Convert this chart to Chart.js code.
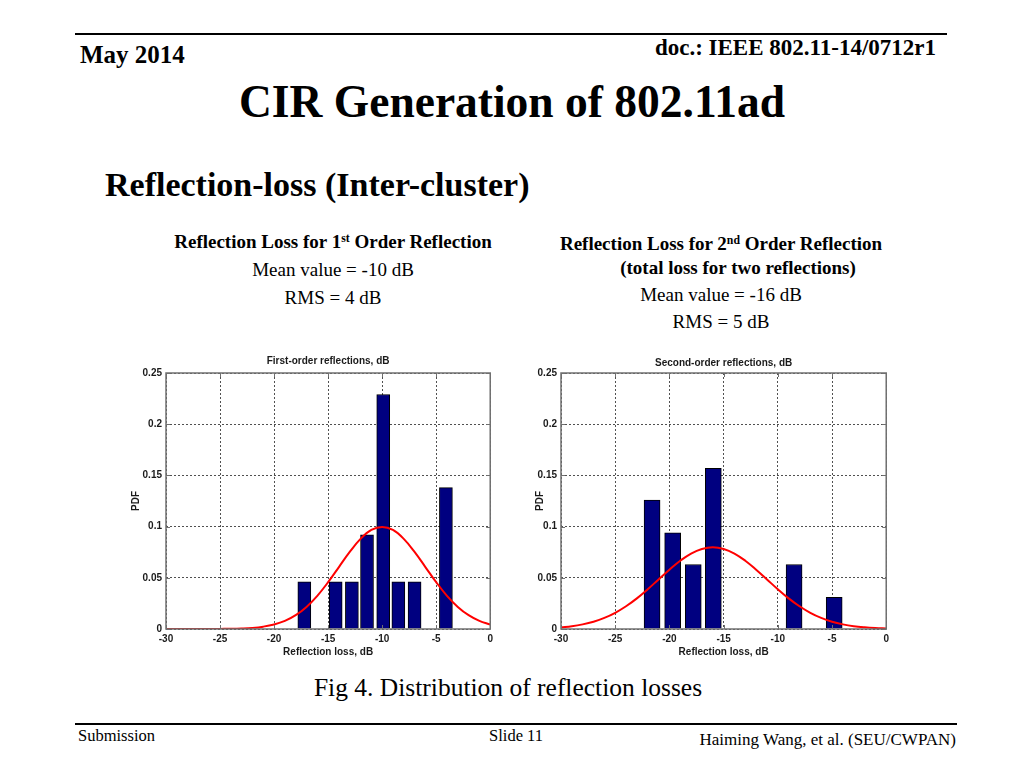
<!DOCTYPE html>
<html>
<head>
<meta charset="utf-8">
<title>CIR Generation of 802.11ad</title>
<script src="https://cdn.jsdelivr.net/npm/chart.js@4.4.0/dist/chart.umd.min.js"></script>
<style>
    body {
        margin: 0;
        width: 1024px;
        height: 768px;
        background: #fff;
        position: relative;
        overflow: hidden;
        font-family: "Liberation Serif", "Times New Roman", serif;
        color: #000;
    }
    .t { position: absolute; white-space: nowrap; line-height: 1; }
    .c { transform: translateX(-50%); }
    .b { font-weight: bold; }
    .rule { position: absolute; left: 75px; height: 2px; background: #000; }
    sup { font-size: 0.62em; line-height: 0; vertical-align: 0.55em; }
    canvas { position: absolute; }
</style>
</head>
<body>

<div class="rule" style="top:33px; width:872px;"></div>
<div class="t b" style="left:80px; top:42px; font-size:25px;">May 2014</div>
<div class="t b" style="right:88px; top:36px; font-size:23px;">doc.: IEEE 802.11-14/0712r1</div>
<div class="t b c" style="left:512px; top:79px; font-size:45.5px;">CIR Generation of 802.11ad</div>
<div class="t b" style="left:105px; top:168px; font-size:34px;">Reflection-loss (Inter-cluster)</div>

<div class="t b c" style="left:333px; top:232px; font-size:19px;">Reflection Loss for 1<sup>st</sup> Order Reflection</div>
<div class="t c" style="left:333px; top:260px; font-size:19px;">Mean value = -10 dB</div>
<div class="t c" style="left:333px; top:288px; font-size:19px;">RMS = 4 dB</div>

<div class="t b c" style="left:721px; top:234px; font-size:19px;">Reflection Loss for 2<sup>nd</sup> Order Reflection</div>
<div class="t b c" style="left:738px; top:258px; font-size:19px;">(total loss for two reflections)</div>
<div class="t c" style="left:721px; top:285px; font-size:19px;">Mean value = -16 dB</div>
<div class="t c" style="left:721px; top:312px; font-size:19px;">RMS = 5 dB</div>

<canvas id="firstChart" width="372" height="310" style="left:125px; top:352px;"></canvas>
<canvas id="secondChart" width="373" height="310" style="left:520px; top:352px;"></canvas>

<div class="t c" style="left:508px; top:675px; font-size:25.5px;">Fig 4. Distribution of reflection losses</div>

<div class="rule" style="top:723px; width:882px;"></div>
<div class="t" style="left:78px; top:728px; font-size:16.5px;">Submission</div>
<div class="t c" style="left:516px; top:728px; font-size:16.5px;">Slide 11</div>
<div class="t" style="right:68px; top:731px; font-size:17px;">Haiming Wang, et al. (SEU/CWPAN)</div>

<script>
// гистограмма 1-го порядка (центры бинов, dB) и PDF
var firstBinCenters = [-17.2, -14.3, -12.8, -11.4, -9.9, -8.5, -7.0, -4.1];
var firstPdf = [0.046, 0.046, 0.046, 0.092, 0.229, 0.046, 0.046, 0.138];

// гистограмма 2-го порядка
var secondBinCenters = [-21.6, -19.7, -17.8, -15.95, -8.5, -4.8];
var secondPdf = [0.126, 0.094, 0.063, 0.157, 0.063, 0.031];

// красные кривые (шаг 1 dB)
var fitLoss = [-30, -29, -28, -27, -26, -25, -24, -23, -22, -21, -20, -19, -18, -17, -16, -15,
               -14, -13, -12, -11, -10, -9, -8, -7, -6, -5, -4, -3, -2, -1, 0];
var firstFit = [0, 0, 0, 0, 0, 0.0001, 0.0002, 0.0005, 0.0011, 0.0023, 0.0044, 0.0079, 0.0135, 0.0216, 0.0324, 0.0457,
                0.0605, 0.0753, 0.0880, 0.0967, 0.0997, 0.0967, 0.0880, 0.0753, 0.0605, 0.0457, 0.0324, 0.0216, 0.0135, 0.0079, 0.0044];
var secondFit = [0.0016, 0.0027, 0.0045, 0.0071, 0.0108, 0.0158, 0.0222, 0.0299, 0.0388, 0.0484, 0.0579, 0.0667, 0.0737, 0.0782, 0.0798, 0.0782,
                 0.0737, 0.0667, 0.0579, 0.0484, 0.0388, 0.0299, 0.0222, 0.0158, 0.0108, 0.0071, 0.0045, 0.0027, 0.0016, 0.0009, 0.0005];

var xTickLabels = ['-30', '-25', '-20', '-15', '-10', '-5', '0'];
var yTickLabels = ['0', '0.05', '0.1', '0.15', '0.2', '0.25'];

Chart.defaults.font.family = '"Liberation Sans", Arial, sans-serif';
Chart.defaults.font.weight = 'bold';
Chart.defaults.color = '#1a1a1a';

// рамка вокруг области графика и короткие засечки внутрь, как в MATLAB
var frameBox = {
    id: 'frameBox',
    afterDraw: function(chart) {
        var a = chart.chartArea;
        var ctx = chart.ctx;
        var xs = chart.scales.x, ys = chart.scales.y;
        ctx.save();
        ctx.strokeStyle = '#707070';
        ctx.lineWidth = 1.5;
        ctx.strokeRect(a.left, a.top, a.right - a.left, a.bottom - a.top);
        ctx.lineWidth = 1;
        ctx.beginPath();
        xs.ticks.forEach(function(t) {
            var px = Math.round(xs.getPixelForValue(t.value)) + 0.5;
            ctx.moveTo(px, a.bottom); ctx.lineTo(px, a.bottom - 4);
            ctx.moveTo(px, a.top); ctx.lineTo(px, a.top + 4);
        });
        ys.ticks.forEach(function(t) {
            var py = Math.round(ys.getPixelForValue(t.value)) + 0.5;
            ctx.moveTo(a.left, py); ctx.lineTo(a.left + 4, py);
            ctx.moveTo(a.right, py); ctx.lineTo(a.right - 4, py);
        });
        ctx.stroke();
        ctx.restore();
    }
};

function toPoints(xs, ys) {
    return xs.map(function(x, i) { return {x: x, y: ys[i]}; });
}

function makeChart(id, title, centers, pdf, fit, barWidth, pdfPad, titleTop) {
    var ctx = document.getElementById(id).getContext('2d');
    return new Chart(ctx, {
        type: 'bar',
        data: {
            datasets: [{
                type: 'line',
                data: toPoints(fitLoss, fit),
                borderColor: '#ff0000',
                borderWidth: 2,
                pointRadius: 0,
                tension: 0.4,
                fill: false,
                order: 0
            }, {
                type: 'bar',
                data: toPoints(centers, pdf),
                backgroundColor: '#000080',
                borderColor: '#000',
                borderWidth: 1,
                barThickness: barWidth,
                order: 1
            }]
        },
        options: {
            responsive: false,
            animation: false,
            layout: { padding: { left: 0, right: 5, top: 0, bottom: 0 } },
            scales: {
                x: {
                    type: 'linear',
                    offset: false,
                    min: -30,
                    max: 0,
                    afterFit: function(scale) { scale.height = 33; },
                    ticks: {
                        stepSize: 5,
                        maxRotation: 0,
                        padding: 4,
                        font: { size: 10 },
                        callback: function(v, i) { return xTickLabels[i]; }
                    },
                    grid: { color: '#505050', lineWidth: 1, drawTicks: false, offset: false },
                    border: { display: false, dash: [2, 2] },
                    title: { display: true, text: 'Reflection loss, dB', font: { size: 10 }, padding: { top: 0, bottom: 4 } }
                },
                y: {
                    min: 0,
                    max: 0.25,
                    afterFit: function(scale) { scale.width = 41; },
                    ticks: {
                        stepSize: 0.05,
                        padding: 4,
                        font: { size: 10 },
                        callback: function(v, i) { return yTickLabels[i]; }
                    },
                    grid: { color: '#505050', lineWidth: 1, drawTicks: false },
                    border: { display: false, dash: [2, 2] },
                    title: { display: true, text: 'PDF', font: { size: 10 }, padding: { top: pdfPad, bottom: 0 } }
                }
            },
            plugins: {
                legend: { display: false },
                tooltip: { enabled: false },
                title: {
                    display: true,
                    text: title,
                    fullSize: false,
                    color: '#1a1a1a',
                    font: { size: 10, weight: 'bold' },
                    padding: { top: titleTop, bottom: 9 - titleTop }
                }
            }
        },
        plugins: [frameBox]
    });
}

makeChart('firstChart', 'First-order reflections, dB', firstBinCenters, firstPdf, firstFit, 13, 5.7, 3.7);
makeChart('secondChart', 'Second-order reflections, dB', secondBinCenters, secondPdf, secondFit, 16, 14.7, 5.3);
</script>
</body>
</html>
